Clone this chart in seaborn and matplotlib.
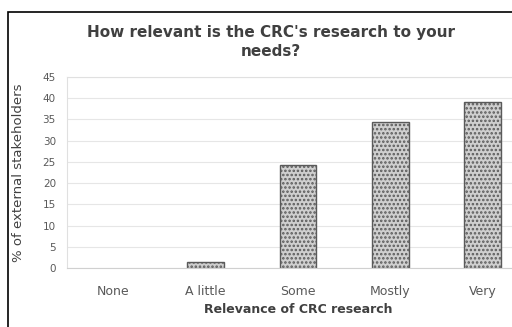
import matplotlib
matplotlib.use("Agg")
import matplotlib.pyplot as plt
import seaborn as sns
import pandas as pd
from matplotlib.patches import Rectangle

categories = ["None", "A little", "Some", "Mostly", "Very"]
percent = [0, 1.5, 24.2, 34.4, 39.0]
y_ticks = [0, 5, 10, 15, 20, 25, 30, 35, 40, 45]

df = pd.DataFrame({"relevance": categories, "pct": percent})

sns.set_theme(style="white")
plt.rcParams["font.family"] = ["DejaVu Sans"]
plt.rcParams["hatch.linewidth"] = 1.2

fig = plt.figure(figsize=(5.12, 3.27), dpi=100)
ax = fig.add_axes([67 / 512, 1 - 268 / 327, 462 / 512, 191 / 327])

sns.barplot(data=df, x="relevance", y="pct", order=categories, ax=ax,
            color="#cfcfcf", width=0.4, saturation=1)
for bar, val in zip(ax.patches, percent):
    bar.set_hatch("....")
    bar.set_edgecolor("#5a5a5a")
    bar.set_linewidth(1.0 if val > 0 else 0)

ax.set_xlim(-0.5, 4.5)
ax.set_ylim(0, 45)
ax.set_yticks(y_ticks)
ax.set_yticklabels([str(t) for t in y_ticks], fontsize=7.5, color="#595959")
ax.tick_params(axis="x", labelsize=9, colors="#595959", pad=12, length=0)
ax.tick_params(axis="y", length=0, pad=8)
ax.yaxis.grid(True, color="#e6e6e6", linewidth=0.8)
ax.set_axisbelow(True)
for side, sp in ax.spines.items():
    sp.set_color("#e0e0e0")
    sp.set_linewidth(0.8)
ax.spines["bottom"].set_color("#d0d0d0")

ax.set_xlabel("Relevance of CRC research", fontsize=9, fontweight="bold",
              color="#404040", labelpad=4)
ax.set_ylabel("% of external stakeholders", fontsize=9.5, color="#404040",
              labelpad=6)
ax.yaxis.set_label_coords(-(67 - 25) / 462, 0.5)

fig.text(271 / 512, 1 - 32 / 327, "How relevant is the CRC's research to your",
         ha="center", va="center", fontsize=11, fontweight="bold", color="#404040")
fig.text(271 / 512, 1 - 52 / 327, "needs?",
         ha="center", va="center", fontsize=11, fontweight="bold", color="#404040")

# chart frame
fig.patches.append(Rectangle((8 / 512, -0.2), 1.2, 1.2 - 12 / 327,
                             transform=fig.transFigure, fill=False,
                             edgecolor="black", linewidth=1.2))

fig.savefig("out.png", dpi=100)
